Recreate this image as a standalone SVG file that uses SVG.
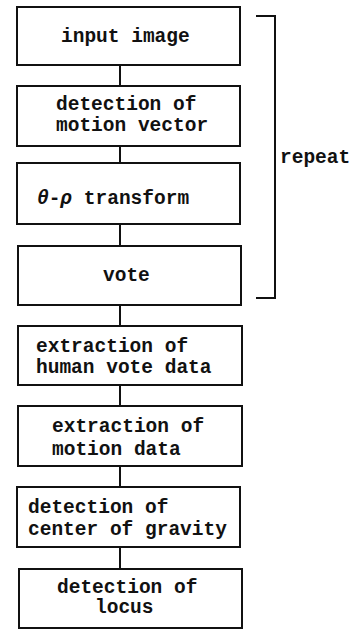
<svg xmlns="http://www.w3.org/2000/svg" width="355" height="630" viewBox="0 0 355 630">
<style>
.box{fill:#fff;stroke:#111;stroke-width:2}
.t{font-family:"Liberation Mono","DejaVu Sans Mono",monospace;font-size:19.5px;font-weight:bold;fill:#111}
.c{stroke:#111;stroke-width:2;fill:none}
</style>
<rect width="355" height="630" fill="#fff"/>
<g id="connectors">
<line class="c" x1="120" y1="65" x2="120" y2="86"/>
<line class="c" x1="120" y1="146" x2="120" y2="163"/>
<line class="c" x1="120" y1="224" x2="120" y2="246"/>
<line class="c" x1="120" y1="305" x2="120" y2="326"/>
<line class="c" x1="120" y1="385" x2="120" y2="406"/>
<line class="c" x1="120" y1="466" x2="120" y2="487"/>
<line class="c" x1="120" y1="547" x2="120" y2="569"/>
<polyline class="c" points="256,16 275,16 275,298 256,298"/>
</g>
<g id="repeat"><text class="t" x="280" y="163">repeat</text></g>
<g id="n1"><rect class="box" x="17" y="7" width="223" height="58"/><text class="t" x="61" y="42">input image</text></g>
<g id="n2"><rect class="box" x="17" y="86" width="223" height="60"/><text class="t" x="56" y="110">detection of</text><text class="t" x="56" y="131">motion vector</text></g>
<g id="n3"><rect class="box" x="17" y="163" width="223" height="61"/><text class="t" x="37" y="204"><tspan font-style="italic">θ</tspan>-<tspan font-style="italic">ρ</tspan> transform</text></g>
<g id="n4"><rect class="box" x="18" y="246" width="223" height="59"/><text class="t" x="103" y="281">vote</text></g>
<g id="n5"><rect class="box" x="18" y="326" width="224" height="59"/><text class="t" x="36" y="352">extraction of</text><text class="t" x="36" y="373">human vote data</text></g>
<g id="n6"><rect class="box" x="18" y="406" width="224" height="60"/><text class="t" x="52" y="432">extraction of</text><text class="t" x="52" y="455">motion data</text></g>
<g id="n7"><rect class="box" x="17" y="487" width="223" height="60"/><text class="t" x="28" y="513">detection of</text><text class="t" x="28" y="535">center of gravity</text></g>
<g id="n8"><rect class="box" x="19" y="569" width="223" height="59"/><text class="t" x="57" y="593">detection of</text><text class="t" x="95" y="613">locus</text></g>
</svg>
